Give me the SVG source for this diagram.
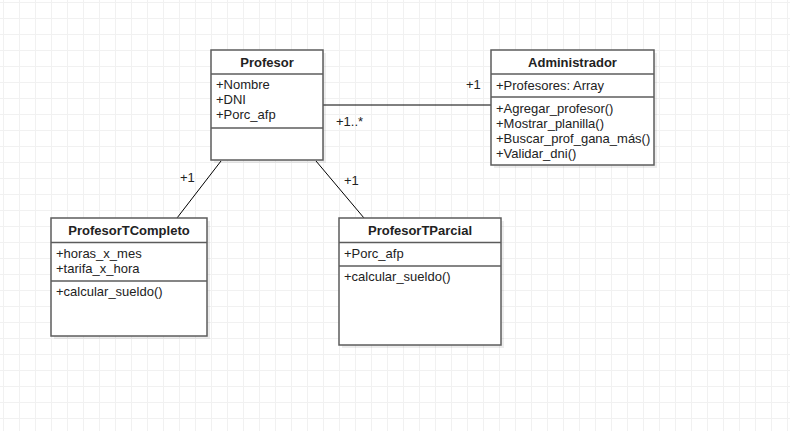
<svg xmlns="http://www.w3.org/2000/svg" width="790" height="431" viewBox="0 0 790 431">
<style>
text{font-family:"Liberation Sans",Arial,sans-serif;font-size:13px;fill:#222}
.t{font-weight:bold;text-anchor:middle}
.box{fill:#fff;stroke:#5c5c5c;stroke-width:1.5}
.sh{fill:#000;fill-opacity:0.07}
.div{stroke:#5c5c5c;stroke-width:1.5}
.c{stroke:#000;stroke-width:1;fill:none}
</style>
<defs>
<pattern id="grid" patternUnits="userSpaceOnUse" x="3" y="2" width="16" height="16">
<path d="M0 0.5H16M0.5 0V16" stroke="#f1f1f1" stroke-width="1" fill="none"/>
</pattern>
</defs>
<rect width="790" height="431" fill="#fff"/>
<rect width="790" height="431" fill="url(#grid)"/>
<g id="connectors">
<line class="c" x1="323" y1="105" x2="491" y2="105"/>
<line class="c" x1="221" y1="161" x2="177" y2="218"/>
<line class="c" x1="316" y1="161" x2="364" y2="218"/>
<text x="466" y="89">+1</text>
<text x="336" y="126">+1..*</text>
<text x="180" y="182">+1</text>
<text x="344" y="185">+1</text>
</g>
<g id="profesor">
<rect class="sh" x="214" y="53" width="112" height="110"/>
<rect class="box" x="211" y="50" width="112" height="110"/>
<line class="div" x1="211" y1="74" x2="323" y2="74"/>
<line class="div" x1="211" y1="128" x2="323" y2="128"/>
<text class="t" x="267" y="67">Profesor</text>
<text x="216" y="89">+Nombre</text>
<text x="216" y="104">+DNI</text>
<text x="216" y="119">+Porc_afp</text>
</g>
<g id="administrador">
<rect class="sh" x="494" y="53" width="163" height="115"/>
<rect class="box" x="491" y="50" width="163" height="115"/>
<line class="div" x1="491" y1="74" x2="654" y2="74"/>
<line class="div" x1="491" y1="97" x2="654" y2="97"/>
<text class="t" x="572.5" y="67">Administrador</text>
<text x="496" y="90">+Profesores: Array</text>
<text x="496" y="113">+Agregar_profesor()</text>
<text x="496" y="128">+Mostrar_planilla()</text>
<text x="496" y="143">+Buscar_prof_gana_más()</text>
<text x="496" y="158">+Validar_dni()</text>
</g>
<g id="profesorTCompleto">
<rect class="sh" x="54" y="221" width="156" height="118"/>
<rect class="box" x="51" y="218" width="156" height="118"/>
<line class="div" x1="51" y1="242.5" x2="207" y2="242.5"/>
<line class="div" x1="51" y1="281" x2="207" y2="281"/>
<text class="t" x="129" y="235">ProfesorTCompleto</text>
<text x="56" y="258">+horas_x_mes</text>
<text x="56" y="273">+tarifa_x_hora</text>
<text x="56" y="296">+calcular_sueldo()</text>
</g>
<g id="profesorTParcial">
<rect class="sh" x="342" y="221" width="162" height="127"/>
<rect class="box" x="339" y="218" width="162" height="127"/>
<line class="div" x1="339" y1="242.5" x2="501" y2="242.5"/>
<line class="div" x1="339" y1="266" x2="501" y2="266"/>
<text class="t" x="420" y="235">ProfesorTParcial</text>
<text x="344" y="258">+Porc_afp</text>
<text x="344" y="281">+calcular_sueldo()</text>
</g>
</svg>
